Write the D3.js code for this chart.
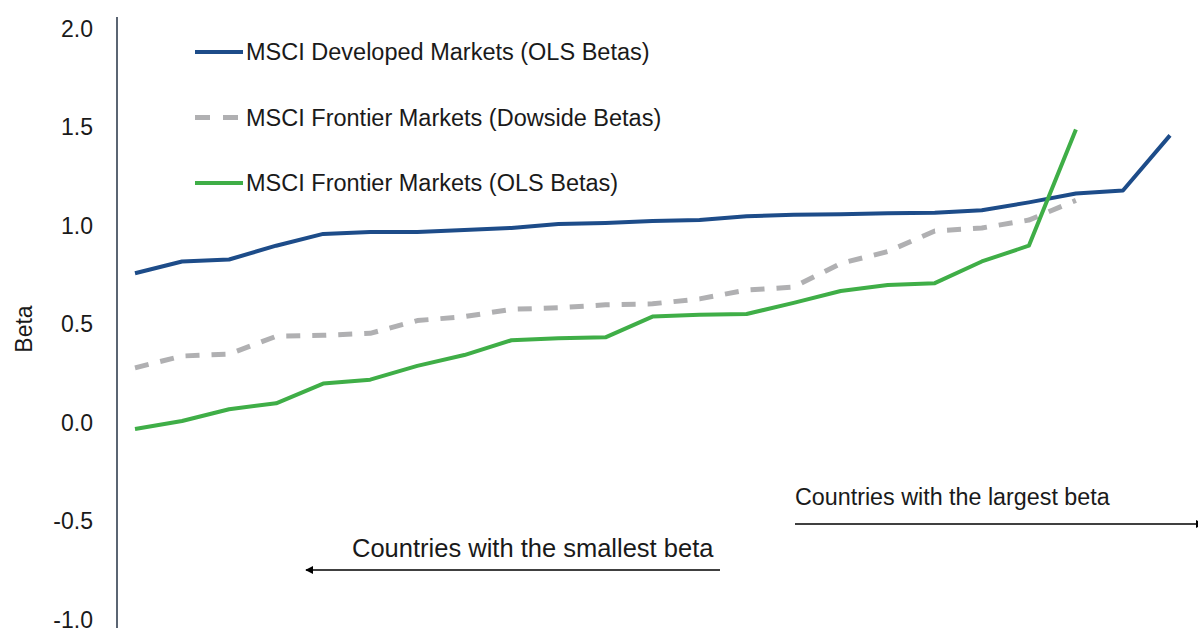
<!DOCTYPE html>
<html>
<head>
<meta charset="utf-8">
<script src="https://cdn.jsdelivr.net/npm/d3@7"></script>
<style>
  body { margin: 0; background: #fff; }
  text { font-family: "Liberation Sans", Arial, sans-serif; fill: #1a1a1a; }
</style>
</head>
<body>
<script>
// betas per country, sorted from smallest to largest
var developedOls = [0.76, 0.82, 0.83, 0.90, 0.96, 0.97, 0.97, 0.98, 0.99, 1.01, 1.015, 1.025,
    1.03, 1.05, 1.057, 1.06, 1.065, 1.067, 1.08, 1.12, 1.165, 1.18, 1.46];
var frontierDownside = [0.28, 0.34, 0.35, 0.44, 0.445, 0.455, 0.52, 0.54, 0.577, 0.585, 0.60,
    0.605, 0.63, 0.675, 0.69, 0.81, 0.87, 0.975, 0.99, 1.03, 1.13];
var frontierOls = [-0.03, 0.01, 0.07, 0.10, 0.20, 0.22, 0.29, 0.345, 0.42, 0.43, 0.435, 0.54,
    0.55, 0.553, 0.61, 0.67, 0.70, 0.71, 0.82, 0.90, 1.49];
var yTicks = [-1.0, -0.5, 0.0, 0.5, 1.0, 1.5, 2.0];
var legendLabels = ["MSCI Developed Markets (OLS Betas)",
    "MSCI Frontier Markets (Dowside Betas)",
    "MSCI Frontier Markets (OLS Betas)"];

var width = 1198,
    height = 629;

var svg = d3.select("body").append("svg")
    .attr("width", width)
    .attr("height", height);

svg.append("defs").append("marker")
    .attr("id", "arrow")
    .attr("viewBox", "0 0 10 10")
    .attr("refX", 9).attr("refY", 5)
    .attr("markerWidth", 5).attr("markerHeight", 5)
    .attr("markerUnits", "strokeWidth")
    .attr("orient", "auto-start-reverse")
    .append("path")
    .attr("d", "M0,0L10,5L0,10z")
    .attr("fill", "#000");

var x = d3.scalePoint()
    .domain(d3.range(developedOls.length))
    .range([135, 1170]);

var y = d3.scaleLinear()
    .domain([-1, 2])
    .range([620, 29]);

// y axis
var yAxis = svg.append("g")
    .attr("transform", "translate(117,0)")
    .call(d3.axisLeft(y)
        .tickValues(yTicks)
        .tickSize(0)
        .tickPadding(24)
        .tickFormat(function(d) { return d3.format(".1f")(d).replace("\u2212", "-"); }));
yAxis.select(".domain").remove();
yAxis.selectAll("text")
    .attr("font-size", 23)
    .attr("font-family", null)
    .attr("fill", "#1a1a1a");

svg.append("line")
    .attr("x1", 117).attr("x2", 117)
    .attr("y1", 17).attr("y2", 628)
    .attr("stroke", "#5b6573")
    .attr("stroke-width", 2);

svg.append("text")
    .attr("transform", "translate(24,329) rotate(-90)")
    .attr("text-anchor", "middle")
    .attr("dy", "0.35em")
    .attr("font-size", 23)
    .text("Beta");

// series lines
var line = d3.line()
    .x(function(d, i) { return x(i); })
    .y(function(d) { return y(d); });

var series = [
    { values: developedOls, color: "#1d4c89", width: 4, dash: null },
    { values: frontierDownside, color: "#b0b0b2", width: 5, dash: "14,12" },
    { values: frontierOls, color: "#3fae47", width: 4, dash: null }
];

svg.append("g")
    .selectAll("path")
    .data(series)
    .enter().append("path")
    .attr("d", function(d) { return line(d.values); })
    .attr("fill", "none")
    .attr("stroke", function(d) { return d.color; })
    .attr("stroke-width", function(d) { return d.width; })
    .attr("stroke-dasharray", function(d) { return d.dash; })
    .attr("stroke-linejoin", "round");

// legend
var legend = svg.append("g")
    .selectAll("g")
    .data(series)
    .enter().append("g")
    .attr("transform", function(d, i) { return "translate(195," + (52 + i * 65.5) + ")"; });

legend.append("line")
    .attr("x1", 0).attr("x2", 48)
    .attr("stroke", function(d) { return d.color; })
    .attr("stroke-width", function(d) { return d.width; })
    .attr("stroke-dasharray", function(d) { return d.dash ? "15,13" : null; });

legend.append("text")
    .attr("x", 51)
    .attr("dy", "0.35em")
    .attr("font-size", 23.5)
    .text(function(d, i) { return legendLabels[i]; });

// annotations
svg.append("text")
    .attr("x", 795).attr("y", 505)
    .attr("font-size", 23.3)
    .text("Countries with the largest beta");
svg.append("line")
    .attr("x1", 795).attr("x2", 1203)
    .attr("y1", 524).attr("y2", 524)
    .attr("stroke", "#000").attr("stroke-width", 1.6)
    .attr("marker-end", "url(#arrow)");

svg.append("text")
    .attr("x", 352).attr("y", 557)
    .attr("font-size", 25.5)
    .text("Countries with the smallest beta");
svg.append("line")
    .attr("x1", 720).attr("x2", 306)
    .attr("y1", 570).attr("y2", 570)
    .attr("stroke", "#000").attr("stroke-width", 1.6)
    .attr("marker-end", "url(#arrow)");
</script>
</body>
</html>
